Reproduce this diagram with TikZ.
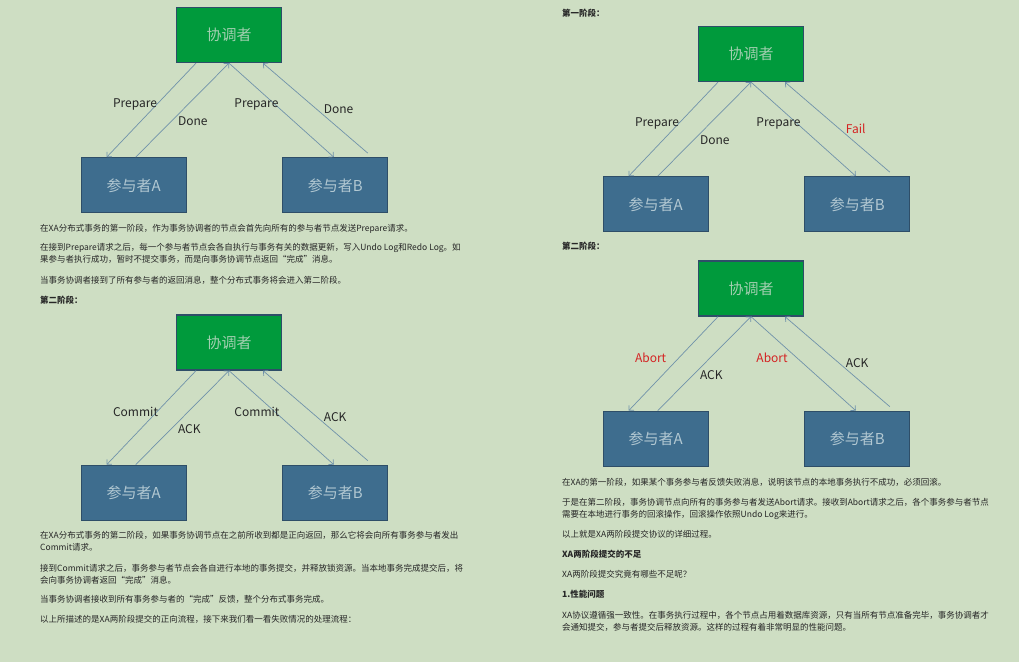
\documentclass[tikz,border=0pt]{standalone}
\usepackage{fontspec}
\setmainfont{Noto Sans CJK SC}
\usepackage{xcolor}
\usepackage{tikz}
\usetikzlibrary{positioning, arrows.meta}

\definecolor{pagebg}{HTML}{CEDEC3}
\definecolor{coordgreen}{HTML}{009A3C}
\definecolor{partblue}{HTML}{3E6D8E}
\definecolor{boxline}{HTML}{2E4E68}
\definecolor{msgline}{HTML}{7092AA}
\definecolor{coordtext}{HTML}{A2CFB0}
\definecolor{parttext}{HTML}{B2C8D2}
\definecolor{failred}{HTML}{D42222}
\definecolor{bodytext}{HTML}{262626}

\begin{document}
\begin{tikzpicture}[x=1pt, y=-1pt]

% Styles
\tikzset{
	coordbox/.style={
		rectangle, draw=boxline, line width=1.3pt, fill=coordgreen,
		minimum width=105pt, minimum height=55pt,
		text=coordtext, font=\fontsize{15}{18}\selectfont
	},
	partbox/.style={
		rectangle, draw=boxline, line width=1.3pt, fill=partblue,
		minimum width=105pt, minimum height=55pt,
		text=parttext, font=\fontsize{15}{18}\selectfont
	},
	msg/.style={draw=msgline, line width=0.7pt, -{Straight Barb[length=3.5pt, width=7pt]}},
	msgtext/.style={font=\fontsize{12}{15}\selectfont, text=bodytext, inner sep=0pt, anchor=west},
	downA/.style={msgtext, pos=.44, xshift=-44pt},
	upA/.style={msgtext, pos=.38, xshift=6.5pt},
	downB/.style={msgtext, pos=.44, xshift=-41pt},
	upB/.style={msgtext, pos=.485, xshift=6.5pt},
	para/.style={anchor=base west, align=left, inner sep=0pt, text=bodytext, font=\fontsize{8.5}{12}\selectfont},
	head/.style={para, font=\fontsize{8.5}{12}\selectfont\bfseries}
}

% Page
\path[use as bounding box, fill=pagebg] (0,0) rectangle (1019,662);

% Phase one, success
\node (c1) [coordbox] at (229,35) {协调者};
\node (a1) [partbox, below left=94pt and -11pt of c1] {参与者A};
\node (b1) [partbox, below right=94pt and 0pt of c1] {参与者B};

\draw[msg] ([xshift=-33pt]c1.south) -- node[downA] {Prepare} ([xshift=-27pt]a1.north);
\draw[msg] ([xshift=2pt]a1.north) -- node[upA] {Done} (c1.south);
\draw[msg] (c1.south) -- node[downB] {Prepare} ([xshift=-1.5pt]b1.north);
\draw[msg] ([xshift=32.5pt, yshift=4pt]b1.north) -- node[upB] {Done} ([xshift=34pt]c1.south);

% text under it (two-line nodes sit on their last line)
\node (p1) [para] at (40,231.5) {在XA分布式事务的第一阶段，作为事务协调者的节点会首先向所有的参与者节点发送Prepare请求。};
\node (p2) [para] at (40,262.5) {在接到Prepare请求之后，每一个参与者节点会各自执行与事务有关的数据更新，写入Undo Log和Redo Log。如\\果参与者执行成功，暂时不提交事务，而是向事务协调节点返回“完成”消息。};
\node (p3) [para] at (40,283.5) {当事务协调者接到了所有参与者的返回消息，整个分布式事务将会进入第二阶段。};
\node (h2) [head] at (40,303.5) {第二阶段：};

% Phase two, commit
\node (c2) [coordbox] at (229,342.5) {协调者};
\node (a2) [partbox, below left=94pt and -11pt of c2] {参与者A};
\node (b2) [partbox, below right=94pt and 0pt of c2] {参与者B};

\draw[msg] ([xshift=-33pt]c2.south) -- node[downA] {Commit} ([xshift=-27pt]a2.north);
\draw[msg] ([xshift=2pt]a2.north) -- node[upA] {ACK} (c2.south);
\draw[msg] (c2.south) -- node[downB] {Commit} ([xshift=-1.5pt]b2.north);
\draw[msg] ([xshift=32.5pt, yshift=4pt]b2.north) -- node[upB] {ACK} ([xshift=34pt]c2.south);

\node (p4) [para] at (40,550.5) {在XA分布式事务的第二阶段，如果事务协调节点在之前所收到都是正向返回，那么它将会向所有事务参与者发出\\Commit请求。};
\node (p5) [para] at (40,583) {接到Commit请求之后，事务参与者节点会各自进行本地的事务提交，并释放锁资源。当本地事务完成提交后，将\\会向事务协调者返回“完成”消息。};
\node (p6) [para] at (40,602.5) {当事务协调者接收到所有事务参与者的“完成”反馈，整个分布式事务完成。};
\node (p7) [para] at (40,622.5) {以上所描述的是XA两阶段提交的正向流程，接下来我们看一看失败情况的处理流程：};

% Phase one, failure
\node (h1) [head] at (562,16.5) {第一阶段：};
\node (c3) [coordbox] at (751,54) {协调者};
\node (a3) [partbox, below left=94pt and -11pt of c3] {参与者A};
\node (b3) [partbox, below right=94pt and 0pt of c3] {参与者B};

\draw[msg] ([xshift=-33pt]c3.south) -- node[downA] {Prepare} ([xshift=-27pt]a3.north);
\draw[msg] ([xshift=2pt]a3.north) -- node[upA] {Done} (c3.south);
\draw[msg] (c3.south) -- node[downB] {Prepare} ([xshift=-1.5pt]b3.north);
\draw[msg] ([xshift=32.5pt, yshift=4pt]b3.north) -- node[upB, text=failred] {Fail} ([xshift=34pt]c3.south);

% Phase two, abort
\node (h3) [head] at (562,249.5) {第二阶段：};
\node (c4) [coordbox] at (751,288.5) {协调者};
\node (a4) [partbox, below left=94pt and -11pt of c4] {参与者A};
\node (b4) [partbox, below right=94pt and 0pt of c4] {参与者B};

\draw[msg] ([xshift=-33pt]c4.south) -- node[downA, text=failred] {Abort} ([xshift=-27pt]a4.north);
\draw[msg] ([xshift=2pt]a4.north) -- node[upA] {ACK} (c4.south);
\draw[msg] (c4.south) -- node[downB, text=failred] {Abort} ([xshift=-1.5pt]b4.north);
\draw[msg] ([xshift=32.5pt, yshift=4pt]b4.north) -- node[upB] {ACK} ([xshift=34pt]c4.south);

\node (p8) [para] at (562,485.5) {在XA的第一阶段，如果某个事务参与者反馈失败消息，说明该节点的本地事务执行不成功，必须回滚。};
\node (p9) [para] at (562,517.5) {于是在第二阶段，事务协调节点向所有的事务参与者发送Abort请求。接收到Abort请求之后，各个事务参与者节点\\需要在本地进行事务的回滚操作，回滚操作依照Undo Log来进行。};
\node (p10) [para] at (562,537.5) {以上就是XA两阶段提交协议的详细过程。};
\node (h4) [head] at (562,557.5) {XA两阶段提交的不足};
\node (p11) [para] at (562,577.5) {XA两阶段提交究竟有哪些不足呢？};
\node (h5) [head] at (562,597.5) {1.性能问题};
\node (p12) [para] at (562,630) {XA协议遵循强一致性。在事务执行过程中，各个节点占用着数据库资源，只有当所有节点准备完毕，事务协调者才\\会通知提交，参与者提交后释放资源。这样的过程有着非常明显的性能问题。};

\end{tikzpicture}
\end{document}
